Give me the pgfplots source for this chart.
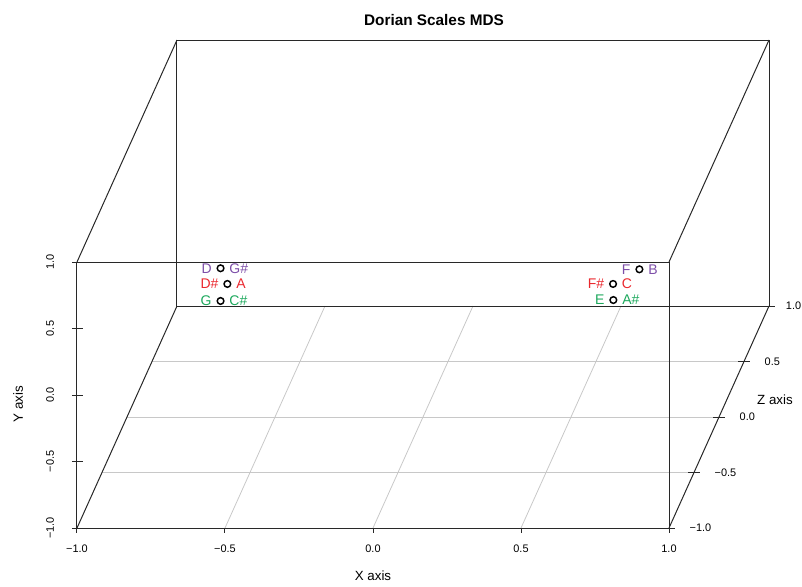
\documentclass[border=0pt]{standalone}
\usepackage{fontspec}
\setmainfont{Liberation Sans}
\usepackage{pgfplots}
\pgfplotsset{compat=1.18}
\usetikzlibrary{calc}

\definecolor{pur}{RGB}{125,78,168}
\definecolor{red1}{RGB}{234,40,46}
\definecolor{grn}{RGB}{28,168,92}
\definecolor{gridc}{RGB}{200,200,200}
\definecolor{boxc}{RGB}{40,40,40}

\newcommand{\tickfont}{\fontsize{8.2}{9}\selectfont}
\newcommand{\labfont}{\fontsize{10.5}{12}\selectfont}

\begin{document}
\begin{tikzpicture}
\begin{axis}[
  x={(222pt,0pt)}, y={(0pt,99.75pt)}, z={(37.5pt,83.25pt)},
  disabledatascaling,
  xmin=-1, xmax=1, ymin=-1, ymax=1, zmin=-1, zmax=1,
  hide axis, clip=false,
  lab/.style={only marks, mark=none, nodes near coords, point meta=explicit symbolic,
    nodes near coords style={font=\labfont, inner sep=0pt}},
]
\coordinate (O) at (axis cs:0,0,0);

% floor grid (y = -1)
\pgfplotsinvokeforeach{-0.5,0,0.5}{
  \draw[gridc, line width=0.6pt] (axis cs:-1,-1,#1) -- (axis cs:1,-1,#1);
  \draw[gridc, line width=0.6pt] (axis cs:#1,-1,-1) -- (axis cs:#1,-1,1);
}

% box
\draw[boxc, line width=0.75pt] (axis cs:-1,-1,-1) -- (axis cs:1,-1,-1) -- (axis cs:1,1,-1) -- (axis cs:-1,1,-1) -- cycle;
\draw[boxc, line width=0.75pt] (axis cs:-1,-1,1) -- (axis cs:1,-1,1) -- (axis cs:1,1,1) -- (axis cs:-1,1,1) -- cycle;
\draw[boxc, line width=0.75pt] (axis cs:-1,-1,-1) -- (axis cs:-1,-1,1);
\draw[boxc, line width=0.75pt] (axis cs:1,-1,-1) -- (axis cs:1,-1,1);
\draw[boxc, line width=0.75pt] (axis cs:-1,1,-1) -- (axis cs:-1,1,1);
\draw[boxc, line width=0.75pt] (axis cs:1,1,-1) -- (axis cs:1,1,1);

% ticks and tick labels
\pgfplotsinvokeforeach{-1,-0.5,0,0.5,1}{
  \draw[boxc, line width=0.75pt] (axis cs:#1,-1,-1) -- ++(0pt,-4pt);
  \draw[boxc, line width=0.75pt] ($(axis cs:-1,#1,-1)+(-3.75pt,0pt)$) -- ++(8.25pt,0pt);
  \draw[boxc, line width=0.75pt] ($(axis cs:1,-1,#1)+(-4.5pt,0pt)$) -- ++(9pt,0pt);
}
\node[font=\tickfont] at ($(axis cs:-1,-1,-1)+(0pt,-15.75pt)$) {−1.0};
\node[font=\tickfont] at ($(axis cs:-0.5,-1,-1)+(0pt,-15.75pt)$) {−0.5};
\node[font=\tickfont] at ($(axis cs:0,-1,-1)+(0pt,-15.75pt)$) {0.0};
\node[font=\tickfont] at ($(axis cs:0.5,-1,-1)+(0pt,-15.75pt)$) {0.5};
\node[font=\tickfont] at ($(axis cs:1,-1,-1)+(0pt,-15.75pt)$) {1.0};

\node[font=\tickfont, rotate=90] at ($(axis cs:-1,-1,-1)+(-20.25pt,0pt)$) {−1.0};
\node[font=\tickfont, rotate=90] at ($(axis cs:-1,-0.5,-1)+(-20.25pt,0pt)$) {−0.5};
\node[font=\tickfont, rotate=90] at ($(axis cs:-1,0,-1)+(-20.25pt,0pt)$) {0.0};
\node[font=\tickfont, rotate=90] at ($(axis cs:-1,0.5,-1)+(-20.25pt,0pt)$) {0.5};
\node[font=\tickfont, rotate=90] at ($(axis cs:-1,1,-1)+(-20.25pt,0pt)$) {1.0};

\node[font=\tickfont, anchor=west] at ($(axis cs:1,-1,-1)+(12pt,0pt)$) {−1.0};
\node[font=\tickfont, anchor=west] at ($(axis cs:1,-1,-0.5)+(12pt,0pt)$) {−0.5};
\node[font=\tickfont, anchor=west] at ($(axis cs:1,-1,0)+(12pt,0pt)$) {0.0};
\node[font=\tickfont, anchor=west] at ($(axis cs:1,-1,0.5)+(12pt,0pt)$) {0.5};
\node[font=\tickfont, anchor=west, inner sep=0pt] at ($(axis cs:1,-1,1)+(12.5pt,0pt)$) {1.0};

% points
\addplot3[only marks, mark=o, mark size=2.5pt, mark options={line width=1.1pt, draw=black}]
  coordinates {(-0.515,0.953,-1) (-0.492,0.835,-1) (-0.515,0.707,-1)
               (0.900,0.945,-1) (0.811,0.835,-1) (0.812,0.714,-1)};

% labels, left of point
\addplot3[lab, nodes near coords style={anchor=east, xshift=-6.5pt, text=pur}]
  coordinates {(-0.515,0.953,-1) [D] (0.900,0.945,-1) [F]};
\addplot3[lab, nodes near coords style={anchor=east, xshift=-6.5pt, text=red1}]
  coordinates {(-0.492,0.835,-1) [D\#] (0.811,0.835,-1) [F\#]};
\addplot3[lab, nodes near coords style={anchor=east, xshift=-6.5pt, text=grn}]
  coordinates {(-0.515,0.707,-1) [G] (0.812,0.714,-1) [E]};
% labels, right of point
\addplot3[lab, nodes near coords style={anchor=west, xshift=6.5pt, text=pur}]
  coordinates {(-0.515,0.953,-1) [G\#] (0.900,0.945,-1) [B]};
\addplot3[lab, nodes near coords style={anchor=west, xshift=6.5pt, text=red1}]
  coordinates {(-0.492,0.835,-1) [A] (0.811,0.835,-1) [C]};
\addplot3[lab, nodes near coords style={anchor=west, xshift=6.5pt, text=grn}]
  coordinates {(-0.515,0.707,-1) [C\#] (0.812,0.714,-1) [A\#]};
\end{axis}

\node[font=\bfseries\fontsize{11.5}{13}\selectfont] at ($(O)+(8.25pt,198pt)$) {Dorian Scales MDS};
\node[font=\fontsize{10}{12}\selectfont] at ($(O)+(-37.5pt,-219pt)$) {X axis};
\node[font=\fontsize{10}{12}\selectfont] at ($(O)+(264pt,-87pt)$) {Z axis};
\node[font=\fontsize{10}{12}\selectfont, rotate=90] at ($(O)+(-303.75pt,-90pt)$) {Y axis};

\pgfresetboundingbox
\path ($(O)+(-317.25pt,-226.5pt)$) rectangle ($(O)+(284.25pt,213pt)$);
\end{tikzpicture}
\end{document}
